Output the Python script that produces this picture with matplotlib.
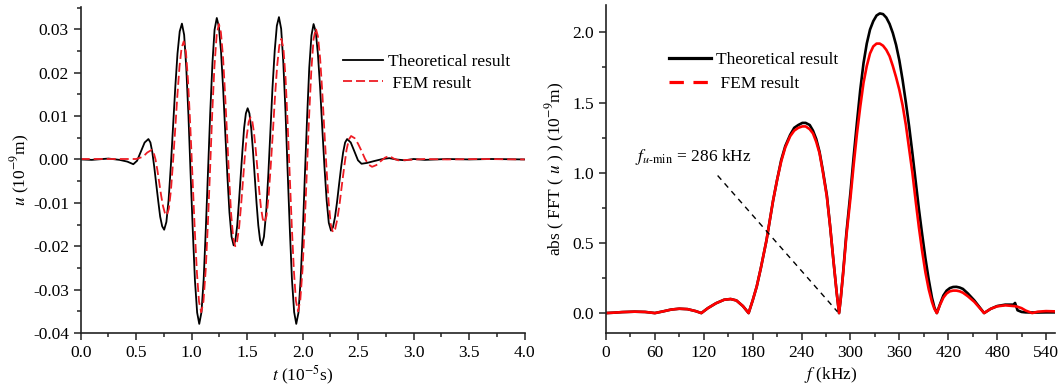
import numpy as np
import matplotlib
matplotlib.use("Agg")
import matplotlib.pyplot as plt
from matplotlib.lines import Line2D
from matplotlib.ticker import MultipleLocator, FormatStrFormatter

plt.rcParams['font.family'] = ['Liberation Serif', 'DejaVu Serif']
plt.rcParams['mathtext.fontset'] = 'stix'
plt.rcParams['axes.unicode_minus'] = False
plt.rcParams['font.size'] = 12.5

# ---- left panel: time signal, t in 1e-5 s, u in 1e-9 m ----
t_theory = [0.0, 0.1, 0.2, 0.25, 0.35, 0.42, 0.474,
            0.508, 0.542, 0.576, 0.61,
            0.628, 0.645, 0.663, 0.681, 0.699, 0.716, 0.734, 0.752,
            0.772, 0.792, 0.812, 0.832, 0.852, 0.872, 0.892, 0.912,
            0.932, 0.951, 0.971, 0.990, 1.010, 1.029, 1.049, 1.068,
            1.088, 1.108, 1.127, 1.147, 1.167, 1.187, 1.206, 1.226,
            1.245, 1.264, 1.283, 1.302, 1.321, 1.340, 1.359, 1.378,
            1.394, 1.410, 1.425, 1.441, 1.457, 1.472, 1.488, 1.504,
            1.520, 1.536, 1.552, 1.568, 1.584, 1.600, 1.616, 1.632,
            1.651, 1.671, 1.690, 1.709, 1.728, 1.748, 1.767, 1.786,
            1.806, 1.825, 1.845, 1.864, 1.884, 1.903, 1.923, 1.942,
            1.962, 1.981, 2.001, 2.020, 2.040, 2.059, 2.079, 2.098,
            2.118, 2.137, 2.157, 2.176, 2.196, 2.216, 2.235, 2.255,
            2.273, 2.291, 2.309, 2.327, 2.346, 2.364, 2.382, 2.400,
            2.433, 2.465, 2.498, 2.530,
            2.58, 2.64, 2.72, 2.78, 2.84, 2.92, 3.0, 3.1, 3.3, 3.5, 3.7, 4.0]
u_theory = [0.0, -0.0001, 0.0001, 0.0002, -0.0001, -0.0005, -0.0011,
            -0.0003, 0.0018, 0.0039, 0.0047,
            0.0039, 0.0017, -0.0018, -0.0058, -0.0097, -0.0132, -0.0154, -0.0162,
            -0.0144, -0.0093, -0.0015, 0.0076, 0.0166, 0.0244, 0.0295, 0.0313,
            0.0287, 0.0212, 0.0099, -0.0033, -0.0165, -0.0278, -0.0353, -0.0379,
            -0.0352, -0.0276, -0.0161, -0.0027, 0.0108, 0.0223, 0.0299, 0.0326,
            0.0306, 0.0250, 0.0164, 0.0064, -0.0036, -0.0122, -0.0178, -0.0198,
            -0.0186, -0.0152, -0.0100, -0.0040, 0.0020, 0.0072, 0.0106, 0.0118,
            0.0106, 0.0072, 0.0020, -0.0040, -0.0100, -0.0152, -0.0186, -0.0198,
            -0.0178, -0.0121, -0.0036, 0.0065, 0.0166, 0.0251, 0.0308, 0.0328,
            0.0301, 0.0225, 0.0110, -0.0026, -0.0161, -0.0276, -0.0352, -0.0379,
            -0.0353, -0.0278, -0.0166, -0.0034, 0.0099, 0.0211, 0.0286, 0.0312,
            0.0294, 0.0243, 0.0165, 0.0074, -0.0017, -0.0095, -0.0146, -0.0164,
            -0.0156, -0.0133, -0.0099, -0.0059, -0.0018, 0.0016, 0.0039, 0.0047,
            0.0039, 0.0019, -0.0002, -0.0010,
            -0.0008, -0.0004, 0.0001, 0.0003, 0.0000, -0.0002, 0.0001, -0.0001, 0.0001, 0.0, 0.0001, 0.0]

t_fem = [0.0, 0.3, 0.50, 0.56, 0.60, 0.64,
         0.657, 0.674, 0.691, 0.708, 0.724, 0.741, 0.758, 0.775,
         0.794, 0.813, 0.832, 0.852, 0.871, 0.890, 0.909, 0.928,
         0.948, 0.967, 0.987, 1.007, 1.027, 1.047, 1.066, 1.086,
         1.106, 1.126, 1.146, 1.166, 1.185, 1.205, 1.225, 1.245,
         1.263, 1.282, 1.300, 1.319, 1.337, 1.355, 1.374, 1.392,
         1.409, 1.427, 1.444, 1.461, 1.478, 1.496, 1.513, 1.530,
         1.546, 1.561, 1.577, 1.593, 1.608, 1.624, 1.640, 1.655,
         1.674, 1.693, 1.712, 1.732, 1.751, 1.770, 1.789, 1.808,
         1.827, 1.846, 1.864, 1.883, 1.902, 1.921, 1.939, 1.958,
         1.978, 1.998, 2.018, 2.038, 2.058, 2.078, 2.098, 2.118,
         2.137, 2.157, 2.176, 2.195, 2.215, 2.234, 2.253, 2.272,
         2.293, 2.313, 2.334, 2.354, 2.375, 2.395, 2.416, 2.436,
         2.468, 2.499, 2.531, 2.562, 2.594, 2.625,
         2.664, 2.703, 2.741, 2.78,
         2.82, 2.86, 2.95, 3.1, 3.3, 3.6, 4.0]
u_fem = [0.0001, 0.0001, 0.0001, 0.0006, 0.0016, 0.0022,
         0.0016, 0.0000, -0.0025, -0.0054, -0.0082, -0.0107, -0.0123, -0.0129,
         -0.0114, -0.0071, -0.0005, 0.0072, 0.0148, 0.0214, 0.0257, 0.0272,
         0.0248, 0.0181, 0.0079, -0.0040, -0.0159, -0.0261, -0.0328, -0.0352,
         -0.0327, -0.0255, -0.0147, -0.0020, 0.0107, 0.0215, 0.0287, 0.0312,
         0.0293, 0.0237, 0.0154, 0.0056, -0.0042, -0.0125, -0.0181, -0.0200,
         -0.0189, -0.0157, -0.0108, -0.0052, 0.0005, 0.0054, 0.0086, 0.0097,
         0.0088, 0.0062, 0.0022, -0.0025, -0.0071, -0.0111, -0.0137, -0.0146,
         -0.0130, -0.0084, -0.0015, 0.0066, 0.0147, 0.0216, 0.0262, 0.0278,
         0.0254, 0.0186, 0.0084, -0.0036, -0.0156, -0.0258, -0.0326, -0.0350,
         -0.0325, -0.0255, -0.0149, -0.0024, 0.0101, 0.0207, 0.0277, 0.0302,
         0.0284, 0.0233, 0.0157, 0.0067, -0.0023, -0.0099, -0.0150, -0.0168,
         -0.0160, -0.0136, -0.0099, -0.0057, -0.0015, 0.0022, 0.0046, 0.0054,
         0.0049, 0.0036, 0.0019, 0.0001, -0.0012, -0.0017,
         -0.0013, -0.0004, 0.0004, 0.0008,
         0.0002, -0.0002, -0.0001, 0.0001, 0.0, 0.0001, 0.0]

# ---- right panel: spectrum, f in kHz ----
freq = [0, 10, 20, 35, 48, 60, 70, 80, 90, 100, 110, 117, 125, 135, 145, 153, 160, 168, 175,
        180, 185, 190, 197, 205, 210, 215, 220, 226, 231, 236, 241, 245, 250, 254, 258, 262, 266, 271, 275, 279, 283, 286,
        288, 291, 295, 300, 304, 308, 312, 316, 320, 324, 328, 332, 336, 340, 344, 348, 352, 356, 360, 364,
        368, 372, 376, 380, 384, 388, 392, 396, 400, 403, 406,
        410, 414, 418, 422, 426, 430, 434, 438, 444, 452, 458, 464,
        472, 480, 490, 500, 502, 505, 510, 515, 523, 530, 540, 552]
fft_theory = [0.0, 0.003, 0.007, 0.010, 0.008, 0.0, 0.012, 0.025, 0.031, 0.028, 0.014, 0.0, 0.035, 0.070, 0.095, 0.100, 0.090, 0.050, 0.0,
              0.09, 0.19, 0.32, 0.52, 0.80, 0.95, 1.09, 1.19, 1.27, 1.32, 1.34, 1.355, 1.355, 1.34, 1.30, 1.24, 1.15, 1.02, 0.84, 0.62, 0.38, 0.15, 0.0,
              0.10, 0.29, 0.57, 0.86, 1.12, 1.36, 1.59, 1.78, 1.92, 2.02, 2.08, 2.12, 2.135, 2.13, 2.105, 2.06, 1.995, 1.91, 1.80, 1.66,
              1.50, 1.33, 1.14, 0.94, 0.74, 0.56, 0.39, 0.24, 0.11, 0.04, 0.0,
              0.065, 0.125, 0.16, 0.178, 0.186, 0.187, 0.182, 0.172, 0.140, 0.090, 0.045, 0.0,
              0.030, 0.050, 0.060, 0.060, 0.072, 0.020, 0.008, 0.005, 0.004, 0.004, 0.005, 0.005]
fft_fem = [0.0, 0.003, 0.007, 0.010, 0.008, 0.0, 0.012, 0.025, 0.031, 0.028, 0.014, 0.0, 0.035, 0.070, 0.095, 0.100, 0.090, 0.050, 0.0,
           0.09, 0.19, 0.32, 0.52, 0.80, 0.95, 1.08, 1.18, 1.26, 1.30, 1.32, 1.33, 1.33, 1.31, 1.28, 1.22, 1.14, 1.01, 0.83, 0.62, 0.38, 0.15, 0.0,
           0.10, 0.28, 0.55, 0.82, 1.06, 1.28, 1.47, 1.64, 1.76, 1.85, 1.90, 1.92, 1.92, 1.905, 1.875, 1.83, 1.76, 1.68, 1.59, 1.48,
           1.34, 1.17, 1.00, 0.80, 0.61, 0.44, 0.29, 0.17, 0.08, 0.03, 0.0,
           0.06, 0.11, 0.14, 0.155, 0.16, 0.16, 0.155, 0.145, 0.120, 0.080, 0.040, 0.0,
           0.030, 0.048, 0.055, 0.050, 0.049, 0.045, 0.035, 0.018, 0.0, 0.010, 0.014, 0.012]

W, H = 1063, 389
fig = plt.figure(figsize=(W / 100, H / 100), dpi=100)
ax1 = fig.add_axes([80.7 / W, 56 / H, 444 / W, 326.3 / H])
ax2 = fig.add_axes([606 / W, 56 / H, 449 / W, 328 / H])


def style_axes(ax):
    for s in ['top', 'right']:
        ax.spines[s].set_visible(False)
    for s in ['left', 'bottom']:
        ax.spines[s].set_linewidth(1.2)
        ax.spines[s].set_color('#222222')
    ax.tick_params(which='major', direction='out', length=5, width=1.1, colors='#222222', labelcolor='black')
    ax.tick_params(which='minor', direction='out', length=3, width=1.1, colors='#222222')


# left
dash = (0, (5, 2.2))
ax1.plot(t_theory, u_theory, color='black', lw=1.3)
ax1.plot(t_fem, u_fem, color='#ee1c24', lw=1.3, ls=dash)
ax1.set_xlim(0, 4)
ax1.set_ylim(-0.04, 0.0352)
ax1.xaxis.set_major_locator(MultipleLocator(0.5))
ax1.xaxis.set_minor_locator(MultipleLocator(0.25))
ax1.yaxis.set_major_locator(MultipleLocator(0.01))
ax1.yaxis.set_minor_locator(MultipleLocator(0.005))
ax1.xaxis.set_major_formatter(FormatStrFormatter('%.1f'))
ax1.yaxis.set_major_formatter(FormatStrFormatter('%.2f'))
style_axes(ax1)
ax1.set_xlabel(r'$t$ (10$^{-5}$s)', va='center')
ax1.xaxis.set_label_coords(0.5, -(375 - 333) / 326.3)
ax1.set_ylabel(r'$u$ (10$^{-9}$m)', va='center')
ax1.yaxis.set_label_coords((20 - 80.7) / 444, 0.5)
h1 = [Line2D([], [], color='black', lw=1.3),
      Line2D([], [], color='#ee1c24', lw=1.3, ls=dash)]
ax1.legend(h1, ['Theoretical result', ' FEM result'], frameon=False,
           loc='upper left', bbox_to_anchor=(343 / W, 1 - 54 / H), bbox_transform=fig.transFigure,
           borderpad=0, borderaxespad=0, handlelength=2.3, handletextpad=0.3, labelspacing=0.3)

# right
ax2.plot(freq, fft_theory, color='black', lw=1.9)
ax2.plot(freq, fft_fem, color='#ff0000', lw=1.9)
ax2.plot([137, 284], [0.98, 0.01], color='black', lw=1.0, ls=(0, (4, 3.5)))
ax2.text(36, 1.085, r'$f_{u\text{-min}}$ = 286 kHz', va='baseline', ha='left')
ax2.set_xlim(0, 551)
ax2.set_ylim(-0.142, 2.195)
ax2.xaxis.set_major_locator(MultipleLocator(60))
ax2.xaxis.set_minor_locator(MultipleLocator(30))
ax2.yaxis.set_major_locator(MultipleLocator(0.5))
ax2.yaxis.set_minor_locator(MultipleLocator(0.25))
ax2.yaxis.set_major_formatter(FormatStrFormatter('%.1f'))
style_axes(ax2)
ax2.set_xlabel(r'$f$ (kHz)', va='center')
ax2.xaxis.set_label_coords(0.5, -(375 - 333) / 328)
ax2.set_ylabel(r'abs ( FFT ( $u$ ) ) (10$^{-9}$m)', va='center')
ax2.yaxis.set_label_coords((555 - 606) / 449, 0.5)
h2 = [Line2D([], [], color='black', lw=2.3),
      Line2D([], [], color='#ff0000', lw=2.3, ls=(0, (4.5, 3)))]
ax2.legend(h2, ['Theoretical result', ' FEM result'], frameon=False,
           loc='upper left', bbox_to_anchor=(669 / W, 1 - 52 / H), bbox_transform=fig.transFigure,
           borderpad=0, borderaxespad=0, handlelength=2.4, handletextpad=0.3, labelspacing=0.42)

fig.savefig('out.png', dpi=100)
